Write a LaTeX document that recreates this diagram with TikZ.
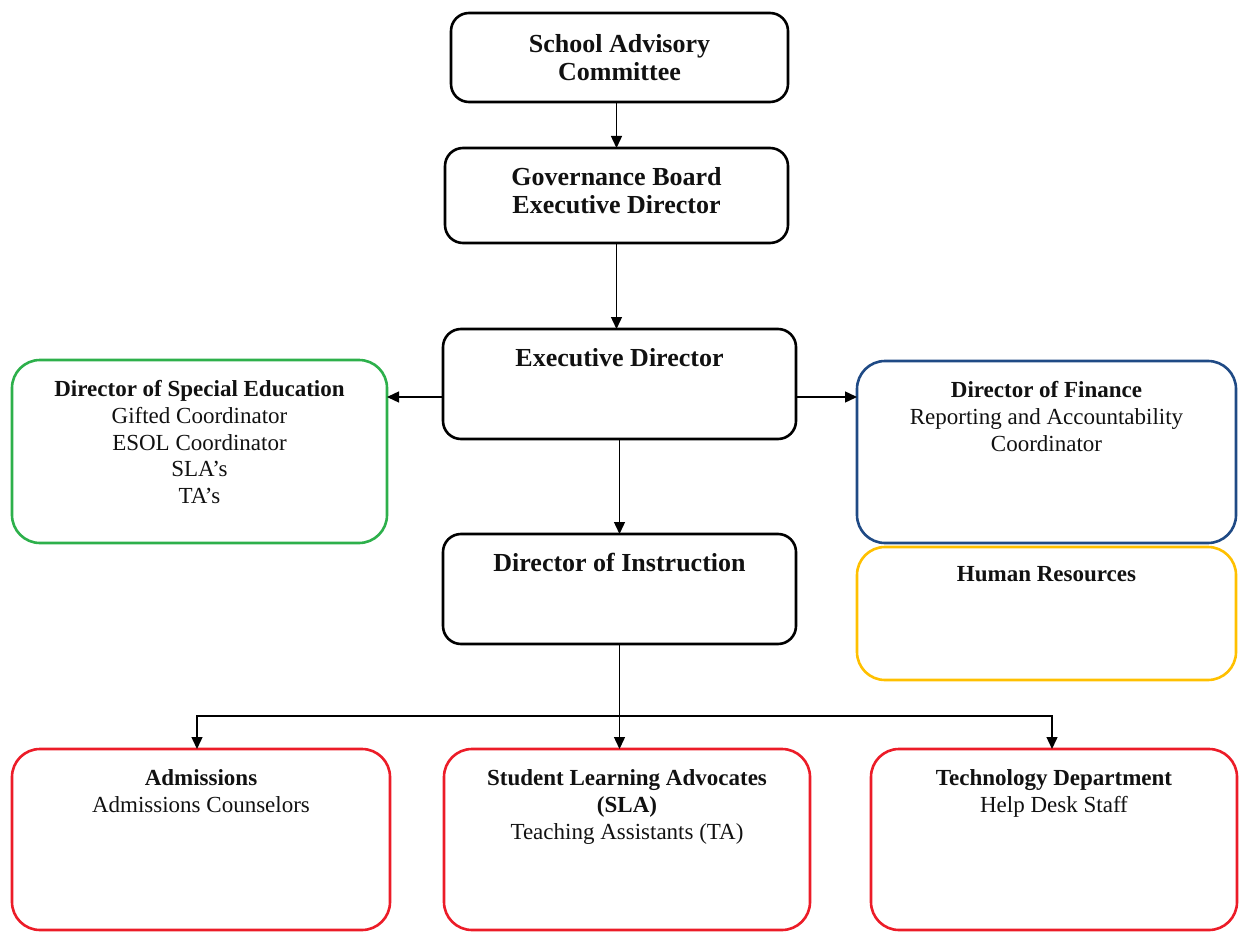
\documentclass[tikz,border=0pt]{standalone}
\usepackage{fontspec}
\setmainfont{Liberation Serif}
\usetikzlibrary{arrows.meta}
\definecolor{cgreen}{HTML}{2DB04B}
\definecolor{cblue}{HTML}{1F4A85}
\definecolor{cyellow}{HTML}{FFC000}
\definecolor{cred}{HTML}{EC1C28}
\definecolor{ctext}{HTML}{111111}
\newcommand\tbox[3]{\parbox[c][#1][t]{#2}{\centering\vspace*{18pt}\strut #3}}
\begin{document}
\begin{tikzpicture}[x=1pt,y=-1pt,
  box/.style={draw=black, line width=2.6pt, rounded corners=18pt, inner sep=0pt, outer sep=0pt, anchor=north west, text=ctext},
  cbox/.style={box, rounded corners=28pt},
  arr/.style={line width=1.4pt, -{Triangle[length=12pt,width=11pt]}},
  big/.style={font=\fontsize{26}{28}\selectfont\bfseries},
  small/.style={font=\fontsize{23}{26.7}\selectfont},
]
\useasboundingbox (0,0) rectangle (1241,933);

\node[box, big] (sac) at (451,13) {\parbox[c][89pt][c]{337pt}{\centering School Advisory\\Committee}};
\node[box, big] (gb) at (445,148) {\tbox{95pt}{343pt}{Governance Board\\Executive Director}};
\node[box, big] (ed) at (443,329) {\tbox{110pt}{353pt}{Executive Director}};
\node[box, big] (di) at (443,534) {\tbox{110pt}{353pt}{Director of Instruction}};

\node[cbox, small, draw=cgreen] (spe) at (12,360) {\tbox{183pt}{375pt}{{\bfseries Director of Special Education}\\Gifted Coordinator\\ESOL Coordinator\\SLA’s\\TA’s}};
\node[cbox, small, draw=cblue] (fin) at (857,361) {\tbox{182pt}{379pt}{{\bfseries Director of Finance}\\Reporting and Accountability\\Coordinator}};
\node[cbox, small, draw=cyellow] (hr) at (857,547) {\parbox[c][133pt][t]{379pt}{\centering\vspace*{16pt}\strut\bfseries Human Resources}};

\node[cbox, small, draw=cred] (adm) at (12,749) {\tbox{181pt}{378pt}{{\bfseries Admissions}\\Admissions Counselors}};
\node[cbox, small, draw=cred] (sla) at (444,749) {\tbox{181pt}{366pt}{{\bfseries Student Learning Advocates}\\{\bfseries (SLA)}\\Teaching Assistants (TA)}};
\node[cbox, small, draw=cred] (tech) at (871,749) {\tbox{181pt}{366pt}{{\bfseries Technology Department}\\Help Desk Staff}};

\draw[arr] (gb.north |- sac.south) -- (gb.north);
\draw[arr] (gb.south) -- (gb.south |- ed.north);
\draw[arr] (ed.south) -- (di.north);
\draw[arr] (ed.west |- 0,397) -- (spe.east |- 0,397);
\draw[arr] (ed.east |- 0,397) -- (fin.west |- 0,397);
\coordinate (j) at (di.south |- 0,716);
\draw[arr] (di.south) -- (di.south |- sla.north);
\draw[arr] (j) -| ([xshift=-4pt]adm.north);
\draw[arr] (j) -| ([xshift=-2pt]tech.north);
\end{tikzpicture}
\end{document}
